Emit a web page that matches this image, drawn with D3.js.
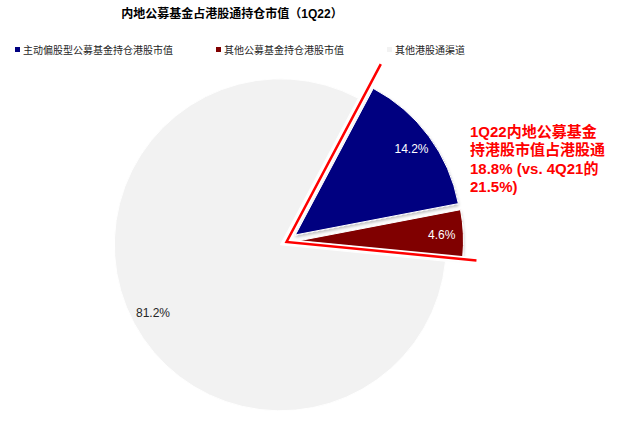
<!DOCTYPE html>
<html>
<head>
<meta charset="utf-8">
<script src="https://cdn.jsdelivr.net/npm/d3@7"></script>
<style>
  html, body { margin: 0; padding: 0; background: #fff; }
  svg { display: block; font-family: "Liberation Sans", Arial, "Noto Sans CJK SC", sans-serif; }
</style>
</head>
<body>
<div id="chart"></div>
<script>
/* chart data */
const title = "内地公募基金占港股通持仓市值（1Q22）";
const categories = ["主动偏股型公募基金持仓港股市值", "其他公募基金持仓港股市值", "其他港股通渠道"];
const values = [14.2, 4.6, 81.2];
const noteLines = ["1Q22内地公募基金", "持港股市值占港股通", "18.8% (vs. 4Q21的", "21.5%)"];

/* styles */
const colors = ["#000080", "#800000", "#f2f2f2"];
const labelColors = ["#ffffff", "#ffffff", "#262626"];
const explode = [11, 11, 7];

const width = 624, height = 421;
const cx = 286.5, cy = 241.5, r = 166;
const startDeg = 28;

const svg = d3.select("#chart").append("svg")
  .attr("width", width).attr("height", height);

const defs = svg.append("defs");
defs.append("filter").attr("id", "shadow")
  .attr("x", "-20%").attr("y", "-20%").attr("width", "140%").attr("height", "140%")
  .append("feDropShadow")
  .attr("dx", 0).attr("dy", 2).attr("stdDeviation", 1.5)
  .attr("flood-color", "#000").attr("flood-opacity", 0.25);

// title
svg.append("text")
  .attr("x", 232).attr("y", 18)
  .attr("text-anchor", "middle")
  .attr("font-size", 12).attr("font-weight", "bold").attr("fill", "#000")
  .text(title);

// legend
const legendX = [15, 216, 387];
const legend = svg.append("g").selectAll("g")
  .data(categories).join("g")
  .attr("transform", (d, i) => `translate(${legendX[i]},50)`);
legend.append("rect")
  .attr("x", 0).attr("y", -3).attr("width", 5).attr("height", 5)
  .attr("fill", (d, i) => colors[i]);
legend.append("text")
  .attr("x", 8).attr("y", 0).attr("dy", "0.35em")
  .attr("font-size", 10).attr("fill", "#262626")
  .text(d => d);

// pie
const pie = d3.pie().sort(null).value(d => d)
  .startAngle(startDeg * Math.PI / 180)
  .endAngle(startDeg * Math.PI / 180 + 2 * Math.PI);
const arcs = pie(values);
const arc = d3.arc().innerRadius(0).outerRadius(r);
const labelArc = d3.arc().innerRadius(r * 0.87).outerRadius(r * 0.87);

function offset(d, i) {
  const a = (d.startAngle + d.endAngle) / 2;
  return [Math.sin(a) * explode[i], -Math.cos(a) * explode[i]];
}

const slices = svg.append("g").attr("transform", `translate(${cx},${cy})`)
  .selectAll("g").data(arcs).join("g")
  .attr("transform", (d, i) => `translate(${offset(d, i)})`);

// draw gray first, colored slices on top
slices.sort((a, b) => b.index - a.index);

slices.append("path")
  .attr("d", arc)
  .attr("fill", (d, i) => colors[d.index])
  .attr("stroke", "#fff").attr("stroke-width", 1)
  .attr("filter", d => d.index < 2 ? "url(#shadow)" : null);

slices.append("text")
  .attr("transform", d => `translate(${labelArc.centroid(d)})`)
  .attr("text-anchor", "middle").attr("dy", "0.35em")
  .attr("font-size", 12)
  .attr("fill", d => labelColors[d.index])
  .text(d => d3.format(".1f")(d.data) + "%");

// red outline around the mainland fund wedge
const a0 = arcs[0].startAngle, a1 = arcs[1].endAngle;
const outline = [
  [Math.sin(a0) * r * 1.21, -Math.cos(a0) * r * 1.21],
  [0, 0.5],
  [Math.sin(a1) * r * 1.15, -Math.cos(a1) * r * 1.15]
];
const og = svg.append("g").attr("transform", `translate(${cx},${cy})`);
og.append("path")
  .attr("d", d3.line()(outline))
  .attr("fill", "none").attr("stroke", "#fff").attr("stroke-width", 6)
  .attr("stroke-linejoin", "miter");
og.append("path")
  .attr("d", d3.line()(outline))
  .attr("fill", "none").attr("stroke", "#ff0000").attr("stroke-width", 2.5)
  .attr("stroke-linejoin", "miter");

// annotation
svg.append("text")
  .attr("x", 470).attr("y", 136.5)
  .attr("font-size", 15).attr("font-weight", "bold").attr("fill", "#ff0000")
  .selectAll("tspan").data(noteLines).join("tspan")
  .attr("x", 470).attr("dy", (d, i) => i ? 18.6 : 0)
  .text(d => d);
</script>
</body>
</html>
